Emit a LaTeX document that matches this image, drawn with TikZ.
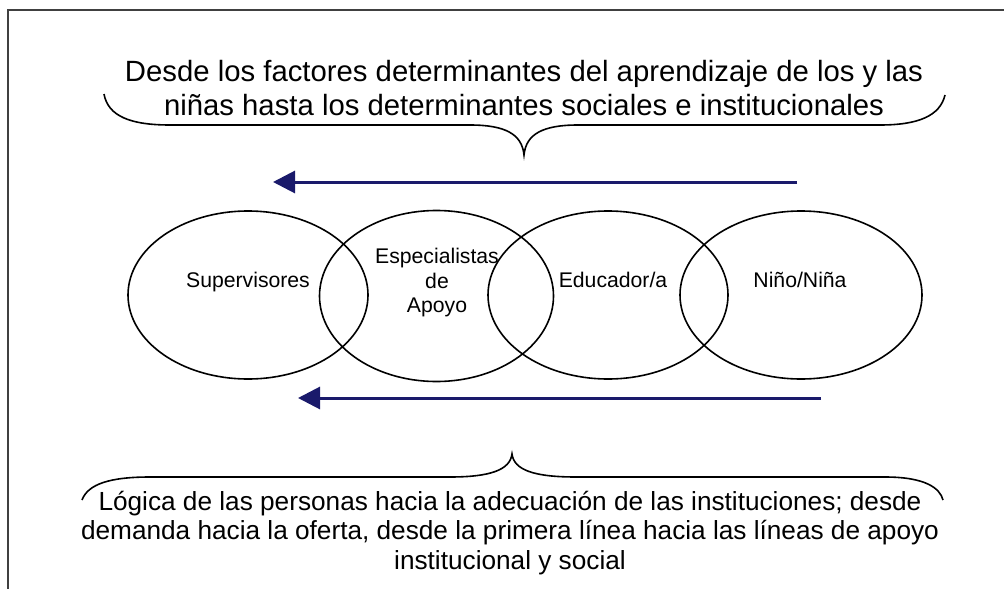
\documentclass[tikz,border=0pt]{standalone}
\usepackage{fontspec}
\setmainfont{Liberation Sans}
\usetikzlibrary{shapes.geometric,arrows.meta}
\definecolor{navyarrow}{HTML}{1A1A6B}
\definecolor{framegray}{HTML}{404040}
\begin{document}
\begin{tikzpicture}[x=1pt,y=-1pt,
  venn/.style={draw=black,line width=1.6pt,ellipse,minimum width=240pt,minimum height=168pt,inner sep=0pt},
  lbl/.style={font=\fontsize{21.2}{24.5}\selectfont,align=center,inner sep=0pt},
  flow/.style={draw=navyarrow,line width=3pt,-{Triangle[length=22pt,width=22pt]}},
  bracecurve/.style={draw=black,line width=1.6pt},
  frameline/.style={draw=framegray,line width=1.3pt},
  toptext/.style={font=\fontsize{29.3}{34}\selectfont,align=center,inner sep=0pt},
  bottext/.style={font=\fontsize{26.2}{29.5}\selectfont,align=center,inner sep=0pt}]
\useasboundingbox (0,0) rectangle (1004,589);
\fill[white] (0,0) rectangle (1004,589);
% frame
\draw[frameline] (1004,10) -- (8,10) -- (8,589);
% top text and brace
\node[toptext] (toplabel) at (524,88.5) {Desde los factores determinantes del aprendizaje de los y las\\niñas hasta los determinantes sociales e institucionales};
\draw[bracecurve] (104,94) .. controls (108,116) and (130,125) .. (170,125) -- (470,125)
  .. controls (505,125) and (522,134) .. (524,155)
  .. controls (526,134) and (543,125) .. (578,125) -- (880,125)
  .. controls (918,125) and (940,116) .. (945,95);
% arrows
\coordinate (a1s) at (797,182);
\coordinate (a1e) at (273,182);
\coordinate (a2s) at (821,398);
\coordinate (a2e) at (298,398);
\draw[flow] (a1s) -- (a1e);
\draw[flow] (a2s) -- (a2e);
% ellipses
\node[venn] (e1) at (248,295) {};
\node[venn,minimum width=234pt,minimum height=171pt] (e2) at (436.5,296) {};
\node[venn] (e3) at (608,295) {};
\node[venn,minimum width=242pt] (e4) at (801,295) {};
\node[lbl,anchor=base] (t1) at (248,287) {Supervisores};
\node[lbl] (t2) at (437,283) {Especialistas\\de\\Apoyo};
\node[lbl,anchor=base] (t3) at (613,287) {Educador/a};
\node[lbl,anchor=base] (t4) at (800,287) {Niño/Niña};
% bottom brace and text
\draw[bracecurve] (82,500) .. controls (88,484) and (110,477) .. (150,477) -- (450,477)
  .. controls (490,477) and (510,470) .. (512,454)
  .. controls (514,470) and (534,477) .. (576,477) -- (885,477)
  .. controls (925,477) and (940,488) .. (943,500);
\node[bottext] (botlabel) at (510,533) {Lógica de las personas hacia la adecuación de las instituciones; desde\\demanda hacia la oferta, desde la primera línea hacia las líneas de apoyo\\institucional y social};
\end{tikzpicture}
\end{document}
